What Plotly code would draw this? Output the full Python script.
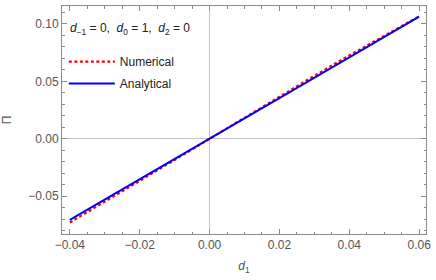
import plotly.graph_objects as go

d1_vals = [-0.04, -0.03, -0.02, -0.01, 0.0, 0.01, 0.02, 0.03, 0.04, 0.05, 0.06]
pi_numerical = [-0.0728, -0.0548, -0.0366, -0.0184, 0.0, 0.0185, 0.0368, 0.0548, 0.0725, 0.0898, 0.1065]
pi_analytical = [-0.0705, -0.0530, -0.0355, -0.0178, 0.0, 0.0177, 0.0354, 0.0531, 0.0708, 0.0885, 0.1062]

x_ticks = [-0.04, -0.02, 0.0, 0.02, 0.04, 0.06]
y_ticks = [-0.05, 0.0, 0.05, 0.10]

FONT = "Liberation Sans, Arial, sans-serif"
GRAY = "#8c8c8c"
TXT = "#555555"

fig = go.Figure()
fig.add_trace(go.Scatter(x=d1_vals, y=pi_numerical, mode="lines", name="Numerical",
                         line=dict(color="#ff0000", width=2.2, dash="3px,2.5px"),
                         legendgroup="a"))
fig.add_trace(go.Scatter(x=d1_vals, y=pi_analytical, mode="lines", name="Analytical",
                         line=dict(color="#0000ff", width=2),
                         legendgroup="b"))

axis_common = dict(
    showgrid=False, zeroline=True, zerolinecolor="#c4c4c4", zerolinewidth=1,
    showline=True, linecolor=GRAY, linewidth=1, mirror="allticks",
    ticks="inside", ticklen=5, tickcolor=GRAY, tickwidth=1,
    tickfont=dict(family=FONT, size=12, color=TXT),
)

fig.update_xaxes(
    range=[-0.04224, 0.06196], tickvals=x_ticks, tickformat=".2f",
    minor=dict(dtick=0.005, ticks="inside", ticklen=2.5, tickcolor=GRAY, showgrid=False),
    title=dict(text="<i>d</i><sub>1</sub>", font=dict(family=FONT, size=12, color=TXT), standoff=10),
    **axis_common,
)
fig.update_yaxes(
    range=[-0.0828, 0.1155], tickvals=y_ticks, tickformat=".2f",
    minor=dict(dtick=0.01, ticks="inside", ticklen=2.5, tickcolor=GRAY, showgrid=False),
    title=dict(text="Π", font=dict(family=FONT, size=12, color=TXT), standoff=15),
    **axis_common,
)

fig.add_annotation(
    xref="paper", yref="paper", x=0.016, y=0.90, xanchor="left", yanchor="middle",
    text="<i>d</i><sub>−1</sub> = 0,  <i>d</i><sub>0</sub> = 1,  <i>d</i><sub>2</sub> = 0",
    showarrow=False, font=dict(family=FONT, size=12, color="#222222"),
)

fig.update_layout(
    width=436, height=280,
    margin=dict(l=56, r=7, t=5, b=46),
    paper_bgcolor="white", plot_bgcolor="white",
    showlegend=True,
    legend=dict(x=0.005, y=0.82, xanchor="left", yanchor="top",
                bgcolor="rgba(0,0,0,0)", tracegroupgap=3, itemwidth=46,
                font=dict(family=FONT, size=12, color="#222222")),
)

fig.write_html("out.html", config={"displayModeBar": False},
               post_script="document.body.style.margin='0px';")
